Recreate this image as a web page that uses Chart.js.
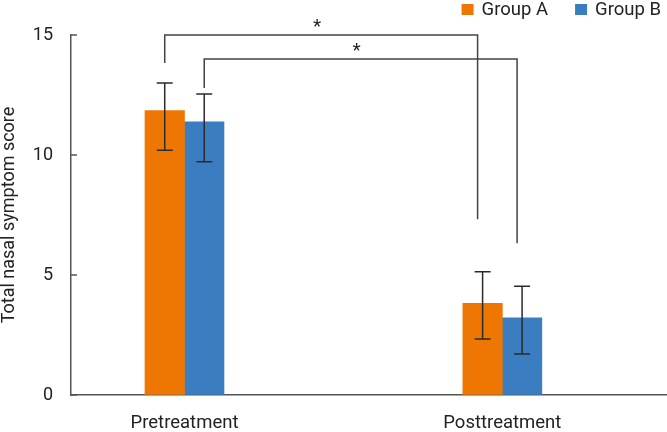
<!DOCTYPE html>
<html>
<head>
<meta charset="utf-8">
<script src="https://cdn.jsdelivr.net/npm/chart.js@4"></script>
<style>
    html, body { margin: 0; padding: 0; background: #fff; }
    #wrap { width: 667px; height: 432px; }
</style>
</head>
<body>
<div id="wrap"><canvas id="scoreChart"></canvas></div>
<script>
const categories = ['Pretreatment', 'Posttreatment'];
const seriesNames = ['Group A', 'Group B'];
const groupA = [11.85, 3.82];
const groupB = [11.38, 3.22];
const groupAHigh = [13.0, 5.14];
const groupALow = [10.2, 2.33];
const groupBHigh = [12.54, 4.53];
const groupBLow = [9.72, 1.71];
const yTicks = [0, 5, 10, 15];
// significance brackets, one per group (pre -> post)
const bracketTop = [15, 14];
const bracketStart = [13.83, 12.79];
const bracketEnd = [7.32, 6.32];
const bracketMark = ['*', '*'];

const colors = ['#EE7703', '#3A7EC1'];
const FONT = "Roboto, 'Liberation Sans', sans-serif";
Chart.defaults.font.family = FONT;
Chart.defaults.color = '#222';

// error bars, inward ticks, brackets and legend
const extras = {
    id: 'extras',
    afterDatasetsDraw(chart) {
        const {ctx, scales: {x, y}} = chart;
        ctx.save();
        ctx.lineWidth = 1.5;

        ctx.strokeStyle = '#555';
        yTicks.forEach(v => {
            const py = y.getPixelForValue(v);
            ctx.beginPath();
            ctx.moveTo(x.left, py);
            ctx.lineTo(x.left + 6, py);
            ctx.stroke();
        });

        const hi = [groupAHigh, groupBHigh];
        const lo = [groupALow, groupBLow];
        ctx.strokeStyle = '#2b2b2b';
        chart.data.datasets.forEach((ds, d) => {
            chart.getDatasetMeta(d).data.forEach((bar, i) => {
                const top = y.getPixelForValue(hi[d][i]);
                const bot = y.getPixelForValue(lo[d][i]);
                ctx.beginPath();
                ctx.moveTo(bar.x, top); ctx.lineTo(bar.x, bot);
                ctx.moveTo(bar.x - 8, top); ctx.lineTo(bar.x + 8, top);
                ctx.moveTo(bar.x - 8, bot); ctx.lineTo(bar.x + 8, bot);
                ctx.stroke();
            });
        });

        ctx.strokeStyle = '#444';
        ctx.fillStyle = '#222';
        ctx.font = '19px ' + FONT;
        ctx.textAlign = 'center';
        ctx.textBaseline = 'alphabetic';
        bracketTop.forEach((t, d) => {
            const bars = chart.getDatasetMeta(d).data;
            const x1 = bars[0].x, x2 = bars[1].x - 5;
            const yt = y.getPixelForValue(t);
            ctx.beginPath();
            ctx.moveTo(x1, y.getPixelForValue(bracketStart[d]));
            ctx.lineTo(x1, yt);
            ctx.lineTo(x2, yt);
            ctx.lineTo(x2, y.getPixelForValue(bracketEnd[d]));
            ctx.stroke();
            ctx.fillText(bracketMark[d], (x1 + x2) / 2 - 4, yt - 3);
        });

        // legend, top right
        ctx.font = '18.5px ' + FONT;
        ctx.textAlign = 'left';
        ctx.textBaseline = 'middle';
        const widths = seriesNames.map(n => ctx.measureText(n).width);
        const total = widths.reduce((a, b) => a + b, 0) + seriesNames.length * 20 + 27 * (seriesNames.length - 1);
        let lx = chart.width - 6 - total;
        seriesNames.forEach((n, i) => {
            ctx.fillStyle = colors[i];
            ctx.fillRect(lx, 4, 12, 11);
            ctx.fillStyle = '#222';
            ctx.fillText(n, lx + 20, 10);
            lx += 20 + widths[i] + 27;
        });
        ctx.restore();
    }
};

new Chart(document.getElementById('scoreChart'), {
    type: 'bar',
    data: {
        datasets: [groupA, groupB].map((vals, d) => ({
            label: seriesNames[d],
            data: vals.map((v, i) => ({x: i + 1, y: v})),
            backgroundColor: colors[d],
            borderWidth: 0,
            barThickness: 39.5
        }))
    },
    options: {
        responsive: true,
        maintainAspectRatio: false,
        animation: false,
        layout: { padding: { top: 35, right: 0, bottom: 0, left: 0 } },
        scales: {
            x: {
                type: 'linear',
                min: 0.643,
                max: 2.518,
                offset: false,
                afterBuildTicks: s => { s.ticks = categories.map((c, i) => ({ value: i + 1 })); },
                afterFit: s => { s.height = 37; },
                ticks: {
                    callback: v => categories[v - 1],
                    padding: 19,
                    font: { size: 18.5, lineHeight: 1 },
                    maxRotation: 0,
                    autoSkip: false
                },
                grid: { drawOnChartArea: false, drawTicks: false },
                border: { color: '#555', width: 1.5 }
            },
            y: {
                min: 0,
                max: 15,
                afterFit: s => { s.width = 71; },
                ticks: { stepSize: 5, padding: 18, font: { size: 18 } },
                title: {
                    display: true,
                    text: 'Total nasal symptom score',
                    font: { size: 18, lineHeight: 1 },
                    padding: { top: 0, bottom: 0 }
                },
                grid: { drawOnChartArea: false, drawTicks: false },
                border: { color: '#555', width: 1.5 }
            }
        },
        plugins: {
            legend: { display: false },
            tooltip: { enabled: false }
        }
    },
    plugins: [extras]
});
</script>
</body>
</html>
